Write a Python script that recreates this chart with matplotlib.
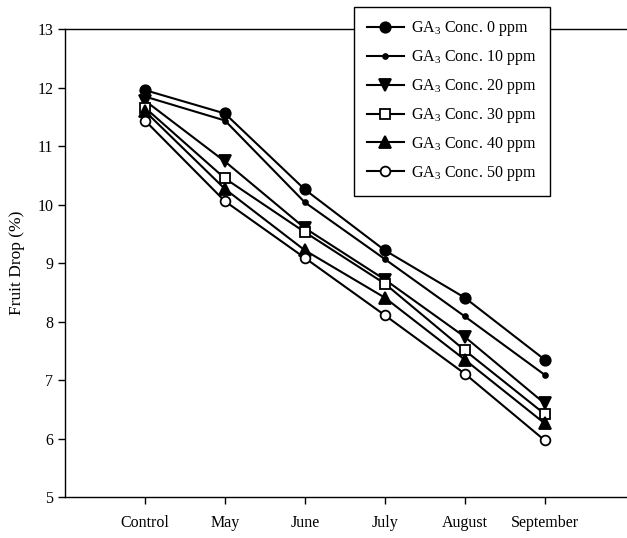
import matplotlib
matplotlib.use("Agg")
import matplotlib.pyplot as plt

plt.rcParams["font.family"] = ["Liberation Serif", "DejaVu Serif"]
plt.rcParams["mathtext.default"] = "regular"

MONTHS = ["Control", "May", "June", "July", "August", "September"]
SERIES_LABELS = [r"GA$_3$ Conc. 0 ppm", r"GA$_3$ Conc. 10 ppm", r"GA$_3$ Conc. 20 ppm",
                 r"GA$_3$ Conc. 30 ppm", r"GA$_3$ Conc. 40 ppm", r"GA$_3$ Conc. 50 ppm"]
GA0 = [11.96, 11.56, 10.26, 9.22, 8.41, 7.35]
GA10 = [11.85, 11.44, 10.04, 9.07, 8.09, 7.09]
GA20 = [11.78, 10.74, 9.60, 8.72, 7.74, 6.60]
GA30 = [11.66, 10.45, 9.53, 8.65, 7.51, 6.42]
GA40 = [11.60, 10.27, 9.22, 8.41, 7.35, 6.26]
GA50 = [11.44, 10.06, 9.09, 8.11, 7.11, 5.97]

styles = [
    dict(marker="o", markersize=7.5, markerfacecolor="black"),
    dict(marker="o", markersize=3.5, markerfacecolor="black"),
    dict(marker="v", markersize=8, markerfacecolor="black"),
    dict(marker="s", markersize=7, markerfacecolor="white"),
    dict(marker="^", markersize=8, markerfacecolor="black"),
    dict(marker="o", markersize=7, markerfacecolor="white"),
]

fig = plt.figure(figsize=(6.27, 5.38), dpi=100)
ax = fig.add_axes([65 / 627, 1 - 497 / 538, 1 - 65 / 627, (497 - 29.3) / 538])

x = list(range(len(MONTHS)))
for vals, label, st in zip([GA0, GA10, GA20, GA30, GA40, GA50], SERIES_LABELS, styles):
    ax.plot(x, vals, color="black", linewidth=1.5, markeredgecolor="black",
            markeredgewidth=1.3, label=label, **st)

ax.set_xlim(-1, 6.03)
ax.set_ylim(5, 13)
ax.set_xticks(x)
ax.set_xticklabels(MONTHS, fontsize=11.5)
ax.set_yticks(range(5, 14))
ax.tick_params(axis="y", labelsize=11.5, direction="out", length=5, width=1)
ax.tick_params(axis="x", direction="out", length=5, width=1, pad=8)
ax.set_ylabel("Fruit Drop (%)", fontsize=12.5, labelpad=9)
ax.spines["right"].set_visible(False)
for s in ["left", "bottom", "top"]:
    ax.spines[s].set_linewidth(1)

leg = ax.legend(loc="upper left", bbox_to_anchor=(354 / 627, 1 - 6.7 / 538),
                bbox_transform=fig.transFigure, borderaxespad=0, fontsize=11.5,
                fancybox=False, edgecolor="black", framealpha=1, handlelength=2.3,
                labelspacing=0.62, borderpad=0.8, handletextpad=0.5)
leg.get_frame().set_linewidth(1)

fig.savefig("out.png", dpi=100)
